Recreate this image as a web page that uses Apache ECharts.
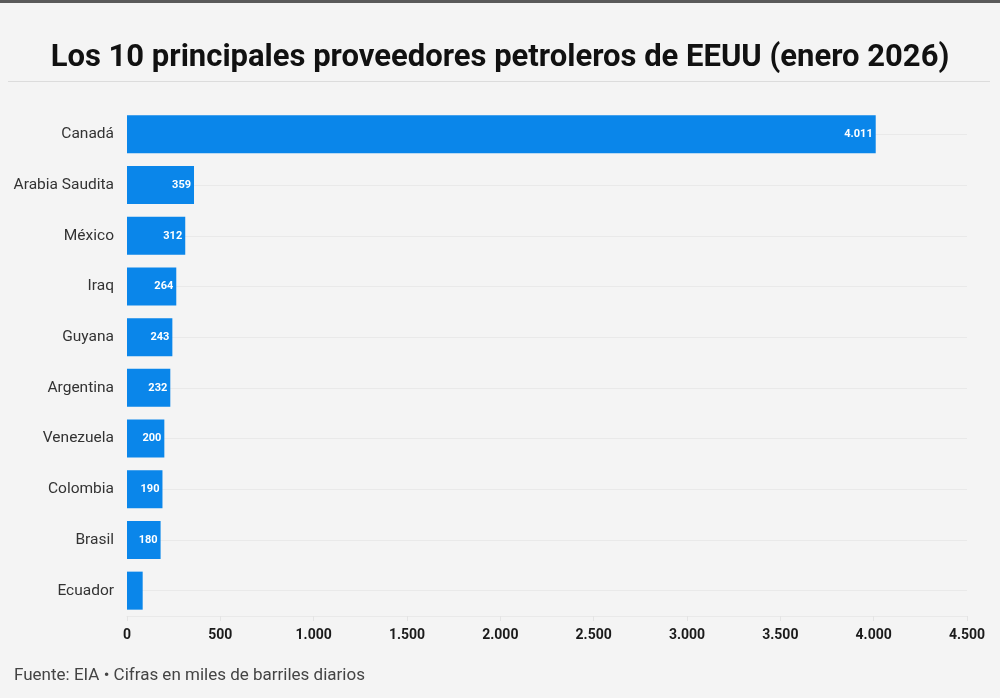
<!DOCTYPE html>
<html><head><meta charset="utf-8">
<script src="https://cdn.jsdelivr.net/npm/echarts@6/dist/echarts.min.js"></script>
<style>html,body{margin:0;padding:0;background:#f4f4f4;}#c{width:1000px;height:698px;}</style>
</head><body><div id="c"></div>
<script>
const categories = ['Canadá','Arabia Saudita','México','Iraq','Guyana','Argentina','Venezuela','Colombia','Brasil','Ecuador'];
const values = [4011,359,312,264,243,232,200,190,180,84];
const showLabel = [true,true,true,true,true,true,true,true,true,false];
const xTicks = [0,500,1000,1500,2000,2500,3000,3500,4000,4500];

const fmt = v => String(v).replace(/\B(?=(\d{3})+(?!\d))/g,'.');
const chart = echarts.init(document.getElementById('c'));
chart.setOption({
  backgroundColor:'#f4f4f4',
  animation:false,
  title:{text:'Los 10 principales proveedores petroleros de EEUU (enero 2026)',left:'center',top:38,
    textStyle:{fontFamily:'Roboto',fontWeight:'bold',fontSize:31,color:'#111'}},
  graphic:[
    {type:'rect',shape:{x:0,y:0,width:1000,height:3},style:{fill:'#5a5a5a'}},
    {type:'rect',shape:{x:8,y:81,width:982,height:1},style:{fill:'#dcdcdc'}},
    {type:'text',left:14,top:667,style:{text:'Fuente: EIA • Cifras en miles de barriles diarios',fontFamily:'Roboto',fontSize:17,fill:'#444'}}
  ],
  grid:{left:127,right:33,top:109,bottom:82,containLabel:false},
  xAxis:{type:'value',min:0,max:xTicks[xTicks.length-1],interval:500,
    axisLine:{show:true,lineStyle:{color:'#e9e9e9'}},axisTick:{show:true,length:5,lineStyle:{color:'#e4e4e4'}},splitLine:{show:false},
    axisLabel:{margin:12,fontFamily:'Roboto',fontWeight:'bold',fontSize:14,color:'#1a1a1a',formatter:v=>fmt(v)}},
  yAxis:{type:'category',data:categories,inverse:true,
      axisLine:{show:false},axisTick:{show:false},splitLine:{show:false},
      axisLabel:{margin:13,fontFamily:'Roboto',fontSize:15.5,color:'#333'}},
  series:[
    {type:'line',data:[],z:0,silent:true,
      markLine:{z:0,silent:true,symbol:'none',label:{show:false},animation:false,
        lineStyle:{color:'#e9e9e9',type:'solid',width:1},
        data:categories.map(c=>({yAxis:c}))}},
    {type:'bar',data:values.map((v,i)=>({value:v,label:{show:showLabel[i]}})),z:3,
    barCategoryGap:'25%',
    itemStyle:{color:'#0a86ea'},
    label:{show:true,position:'insideRight',distance:3,color:'#fff',fontFamily:'Roboto',fontWeight:'bold',fontSize:11,
      formatter:p=>fmt(p.value)}
  }]
});
</script></body></html>
